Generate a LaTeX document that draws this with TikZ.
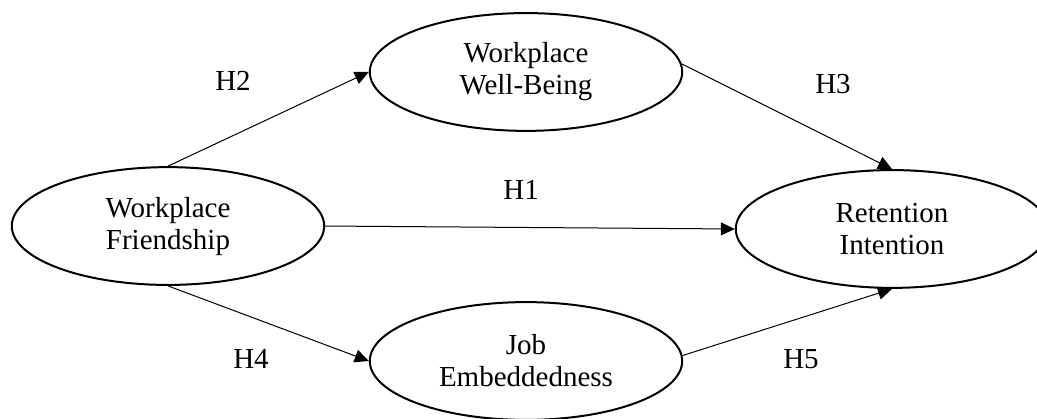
\documentclass[tikz,border=0pt]{standalone}
\usepackage{fontspec}
\setmainfont{Liberation Serif}
\usepackage{tikz}
\usetikzlibrary{shapes,arrows.meta,positioning}

\begin{document}
\begin{tikzpicture}[
    construct/.style={ellipse, draw, line width=1pt, minimum width=5.49cm, minimum height=2.07cm, align=center, font=\fontsize{14.5}{16}\selectfont},
    hyp/.style={-{Triangle[length=7pt, width=6.5pt]}, line width=0.5pt},
    hlabel/.style={font=\fontsize{14.5}{16}\selectfont}
  ]
    \useasboundingbox (0,0) rectangle (18.223,-7.346);

    % Constructs
    \node[construct] (friend) at (2.952,-3.972) {Workplace\\Friendship};
    \node[construct] (wellbeing) at (9.243,-1.265) {Workplace\\Well-Being};
    \node[construct] (embed) at (9.243,-6.344) {Job\\Embeddedness};
    \node[construct] (retention) at (15.675,-4.024) {Retention\\Intention};

    % Hypothesis labels
    \node[hlabel] (h1) at (9.156,-3.339) {H1};
    \node[hlabel] (h2) at (4.095,-1.423) {H2};
    \node[hlabel] (h3) at (14.638,-1.476) {H3};
    \node[hlabel] (h4) at (4.411,-6.309) {H4};
    \node[hlabel] (h5) at (14.076,-6.309) {H5};

    % Arrows
    \draw[hyp] (friend.east) -- (retention.west);
    \draw[hyp] (friend.north) -- (wellbeing.west);
    \draw[hyp] (wellbeing.3) -- (retention.north);
    \draw[hyp] (friend.south) -- (embed.west);
    \draw[hyp] (embed.2) -- (retention.south);
  \end{tikzpicture}
\end{document}
